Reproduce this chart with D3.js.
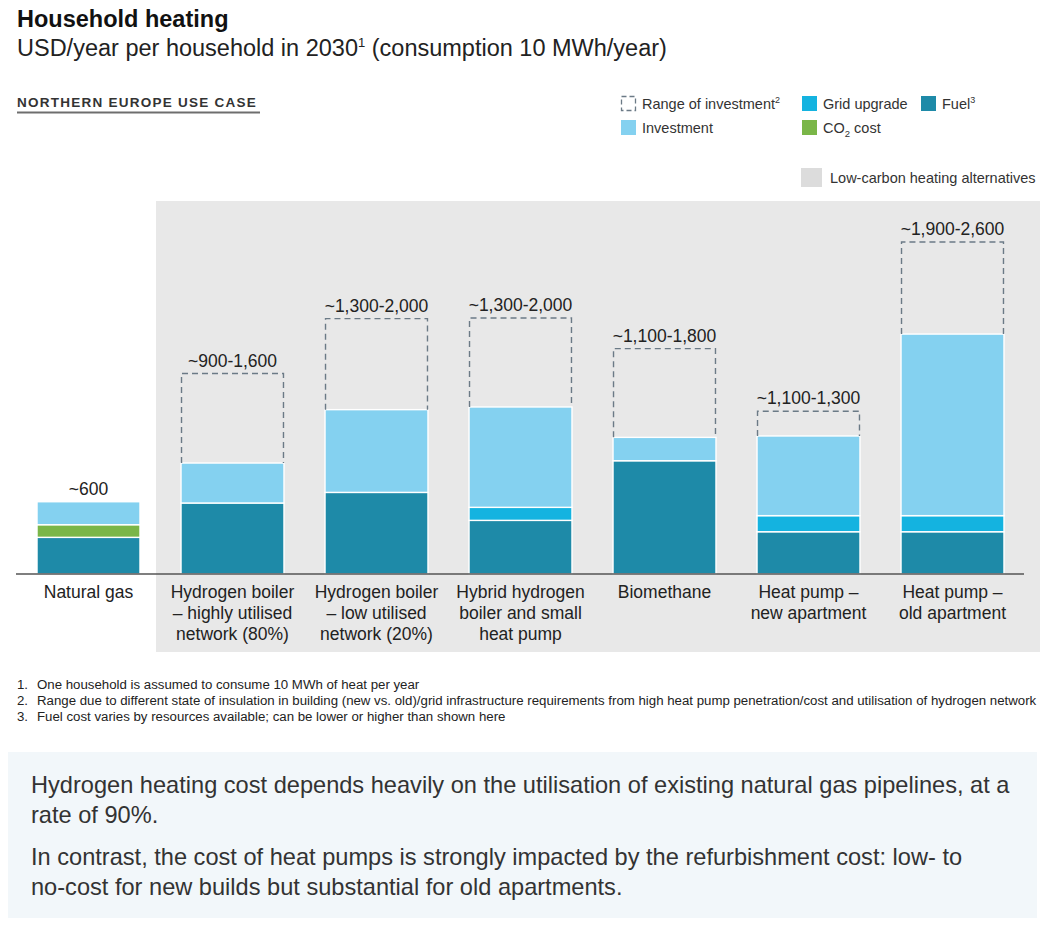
<!DOCTYPE html>
<html>
<head>
<meta charset="utf-8">
<script src="https://cdn.jsdelivr.net/npm/d3@7"></script>
<style>
  html, body { margin: 0; padding: 0; background: #ffffff; }
  svg { display: block; font-family: "Liberation Sans", Arial, Helvetica, sans-serif; }
</style>
</head>
<body>
<svg id="chart" width="1044" height="928"></svg>
<script>
// ---------- DATA ----------
const categories = [
  "Natural gas",
  "Hydrogen boiler – highly utilised network (80%)",
  "Hydrogen boiler – low utilised network (20%)",
  "Hybrid hydrogen boiler and small heat pump",
  "Biomethane",
  "Heat pump – new apartment",
  "Heat pump – old apartment"
];
const categoryLines = [
  ["Natural gas"],
  ["Hydrogen boiler", "– highly utilised", "network (80%)"],
  ["Hydrogen boiler", "– low utilised", "network (20%)"],
  ["Hybrid hydrogen", "boiler and small", "heat pump"],
  ["Biomethane"],
  ["Heat pump –", "new apartment"],
  ["Heat pump –", "old apartment"]
];
const fuel       = [287, 556, 639, 420, 887, 331, 331];
const co2Cost    = [99, 0, 0, 0, 0, 0, 0];
const gridUpgrade= [0, 0, 0, 102, 0, 126, 126];
const investment = [180, 313, 648, 786, 183, 624, 1422];
const rangeHigh  = [null, 1570, 2000, 2005, 1765, 1275, 2600];
const totalLabels= ["~600", "~900-1,600", "~1,300-2,000", "~1,300-2,000", "~1,100-1,800", "~1,100-1,300", "~1,900-2,600"];
const lowCarbon  = [false, true, true, true, true, true, true];
const yMax = 2600;

const footnotes = [
  "One household is assumed to consume 10 MWh of heat per year",
  "Range due to different state of insulation in building (new vs. old)/grid infrastructure requirements from high heat pump penetration/cost and utilisation of hydrogen network",
  "Fuel cost varies by resources available; can be lower or higher than shown here"
];
const boxParagraphs = [
  ["Hydrogen heating cost depends heavily on the utilisation of existing natural gas pipelines, at a", "rate of 90%."],
  ["In contrast, the cost of heat pumps is strongly impacted by the refurbishment cost: low- to", "no-cost for new builds but substantial for old apartments."]
];

const series = [
  { key: "fuel", name: "Fuel", values: fuel, color: "#1e8aa8" },
  { key: "co2", name: "CO2 cost", values: co2Cost, color: "#7ab648" },
  { key: "grid", name: "Grid upgrade", values: gridUpgrade, color: "#14b3e0" },
  { key: "inv", name: "Investment", values: investment, color: "#84d1f0" }
];

// ---------- LAYOUT ----------
const svg = d3.select("#chart");
const baseY = 574, topY = 242;
const x = d3.scaleBand().domain(categories).range([16.5, 1024.5]).paddingInner(0.285).paddingOuter(0.1425);
const y = d3.scaleLinear().domain([0, yMax]).range([baseY, topY]);
const textCol = "#222222";

// Title
svg.append("text").attr("x", 17).attr("y", 27).attr("font-size", 23.5).attr("font-weight", "bold").attr("fill", "#111").text("Household heating");
const sub = svg.append("text").attr("x", 17).attr("y", 56).attr("font-size", 23.5).attr("fill", "#222");
sub.append("tspan").text("USD/year per household in 2030");
sub.append("tspan").attr("font-size", 13).attr("dy", -9).text("1");
sub.append("tspan").attr("dy", 9).text(" (consumption 10 MWh/year)");

// Section heading
svg.append("text").attr("x", 17).attr("y", 107).attr("font-size", 13.5).attr("font-weight", "bold")
  .attr("letter-spacing", 1.25).attr("fill", "#333").text("NORTHERN EUROPE USE CASE");
svg.append("line").attr("x1", 17).attr("x2", 260).attr("y1", 112.5).attr("y2", 112.5).attr("stroke", "#6e6e6e").attr("stroke-width", 2);

// Legend
const lg = svg.append("g").attr("font-size", 14.5).attr("fill", "#333");
lg.append("rect").attr("x", 621.5).attr("y", 96.5).attr("width", 14).attr("height", 14)
  .attr("fill", "none").attr("stroke", "#6b7a86").attr("stroke-width", 1.3).attr("stroke-dasharray", "5,3");
const t1 = lg.append("text").attr("x", 642).attr("y", 109);
t1.append("tspan").text("Range of investment");
t1.append("tspan").attr("font-size", 9).attr("dy", -6).text("2");
const swatches = [
  { x: 621, y: 120, c: "#84d1f0", label: "Investment", tx: 642 },
  { x: 802, y: 96, c: "#14b3e0", label: "Grid upgrade", tx: 823 },
  { x: 921, y: 96, c: "#1e8aa8", label: "Fuel", tx: 942, sup: "3" },
  { x: 802, y: 120, c: "#7ab648", label: "CO2", tx: 823, co2: true }
];
swatches.forEach(s => {
  lg.append("rect").attr("x", s.x).attr("y", s.y).attr("width", 15).attr("height", 15).attr("fill", s.c);
  const t = lg.append("text").attr("x", s.tx).attr("y", s.y + 13);
  if (s.co2) {
    t.append("tspan").text("CO");
    t.append("tspan").attr("font-size", 9.5).attr("dy", 4).text("2");
    t.append("tspan").attr("dy", -4).text(" cost");
  } else {
    t.append("tspan").text(s.label);
    if (s.sup) t.append("tspan").attr("font-size", 9).attr("dy", -6).text(s.sup);
  }
});
lg.append("rect").attr("x", 801).attr("y", 168).attr("width", 21).attr("height", 19).attr("fill", "#dcdcdc");
lg.append("text").attr("x", 830).attr("y", 182.5).text("Low-carbon heating alternatives");

// Grey panel for low-carbon alternatives
const firstLC = categories[lowCarbon.indexOf(true)];
svg.append("rect").attr("x", x(firstLC) - 25).attr("y", 201).attr("width", 1040 - (x(firstLC) - 25)).attr("height", 451).attr("fill", "#e8e8e8");

// Stacked bars
const stackData = categories.map((c, i) => {
  const o = { cat: c };
  series.forEach(s => o[s.key] = s.values[i]);
  return o;
});
const stack = d3.stack().keys(series.map(s => s.key));
const layers = stack(stackData);
const barsG = svg.append("g");
layers.forEach((layer, li) => {
  barsG.selectAll(null).data(layer.filter(d => d[1] - d[0] > 0)).enter().append("rect")
    .attr("x", d => x(d.data.cat))
    .attr("width", x.bandwidth())
    .attr("y", d => y(d[1]))
    .attr("height", d => y(d[0]) - y(d[1]))
    .attr("fill", series[li].color)
    .attr("stroke", "#ffffff")
    .attr("stroke-width", 1.4);
});

// Range boxes (dashed)
const tops = categories.map((c, i) => fuel[i] + co2Cost[i] + gridUpgrade[i] + investment[i]);
categories.forEach((c, i) => {
  if (rangeHigh[i] == null) return;
  const x0 = x(c) + 0.5, x1 = x(c) + x.bandwidth() - 0.5;
  const yb = y(tops[i]), yt = y(rangeHigh[i]);
  svg.append("path").attr("d", `M${x0},${yb}V${yt}H${x1}V${yb}`)
    .attr("fill", "none").attr("stroke", "#6b7a86").attr("stroke-width", 1.4).attr("stroke-dasharray", "6,4");
});

// Value labels
categories.forEach((c, i) => {
  const top = rangeHigh[i] == null ? tops[i] : rangeHigh[i];
  svg.append("text").attr("x", x(c) + x.bandwidth() / 2).attr("y", y(top) - 7)
    .attr("text-anchor", "middle").attr("font-size", 17.5).attr("fill", textCol).text(totalLabels[i]);
});

// Axis
const axis = svg.append("g").attr("transform", `translate(0,${baseY})`)
  .call(d3.axisBottom(x).tickSize(0).tickSizeOuter(0).tickFormat(""));
axis.select(".domain").attr("stroke", "#555").attr("stroke-width", 1.5).attr("d", "M16,0H1024");
axis.selectAll(".tick").each(function(d, i) {
  const t = d3.select(this).select("text").attr("font-size", 17.5).attr("fill", textCol)
    .attr("font-family", "Liberation Sans, Arial, sans-serif").attr("y", 0).attr("dy", null);
  categoryLines[i].forEach((ln, k) => {
    t.append("tspan").attr("x", 0).attr("y", 24 + k * 21).text(ln);
  });
});

// Footnotes
const fn = svg.append("g").attr("font-size", 13.25).attr("fill", "#222");
footnotes.forEach((f, i) => {
  fn.append("text").attr("x", 17).attr("y", 689 + i * 16).text((i + 1) + ".");
  fn.append("text").attr("x", 37).attr("y", 689 + i * 16).text(f);
});

// Bottom box
svg.append("rect").attr("x", 8).attr("y", 752).attr("width", 1029).attr("height", 166).attr("fill", "#f2f7fa");
const bx = svg.append("g").attr("font-size", 23.6).attr("fill", "#333");
let by = 793;
boxParagraphs.forEach((p, pi) => {
  p.forEach((ln, li) => {
    bx.append("text").attr("x", 31).attr("y", by).text(ln);
    by += 30;
  });
  by += 12;
});
</script>
</body>
</html>
